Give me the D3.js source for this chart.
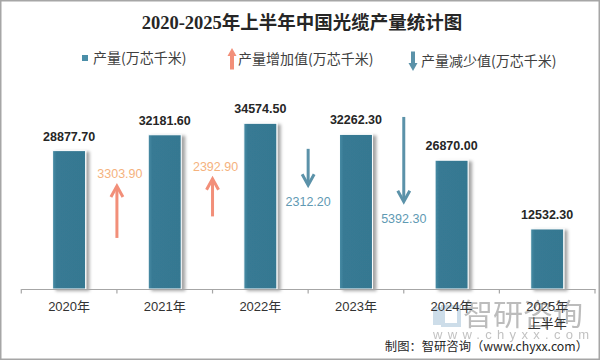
<!DOCTYPE html>
<html><head><meta charset="utf-8">
<script src="https://cdn.jsdelivr.net/npm/d3@7"></script>
<style>body{margin:0;background:#fff}svg{display:block}</style>
</head><body><svg id="c" width="604" height="361"></svg>
<script>
const categories = ["2020年","2021年","2022年","2023年","2024年","2025年\n上半年"];
const production = [28877.70, 32181.60, 34574.50, 32262.30, 26870.00, 12532.30];
const increases = [3303.90, 2392.90, null, null];
const decreases = [null, null, 2312.20, 5392.30];
// arrow start values on the hidden secondary axis
const arrowStart = [3250, 4620, 8920, 10950];
const yTicks = [0, 40000];

const svg = d3.select("#c");
const CJK = "'Noto Sans CJK SC','Noto Sans',sans-serif";
const NUM = "'Liberation Sans',Arial,'Noto Sans CJK SC',sans-serif";

svg.append("rect").attr("x",0.75).attr("y",0.75).attr("width",598.5).attr("height",358.5)
  .attr("fill","#fff").attr("stroke","#a6a6a6").attr("stroke-width",1.5);

const defs = svg.append("defs");
const f = defs.append("filter").attr("id","sh").attr("x","-20%").attr("y","-10%").attr("width","150%").attr("height","130%");
f.append("feDropShadow").attr("dx",3.5).attr("dy",1.5).attr("stdDeviation",1.6).attr("flood-color","#000").attr("flood-opacity",0.35);
const g = defs.append("linearGradient").attr("id","bg");
g.append("stop").attr("offset","0%").attr("stop-color","#4a8da6");
g.append("stop").attr("offset","12%").attr("stop-color","#377a94");
g.append("stop").attr("offset","100%").attr("stop-color","#367891");

// watermark (background)
const wm = svg.append("g").attr("opacity",0.7);
wm.append("rect").attr("x",433).attr("y",307).attr("width",8).attr("height",18).attr("fill","#b8cfe0");
wm.append("rect").attr("x",443).attr("y",307).attr("width",16).attr("height",18).attr("fill","none").attr("stroke","#b8cfe0").attr("stroke-width",4);
wm.append("text").attr("x",463).attr("y",325).attr("font-family",CJK).attr("font-size",30).attr("fill","#a0a0a0").text("智研咨询");
wm.append("text").attr("x",433).attr("y",339).attr("font-family",NUM).attr("font-size",13).attr("letter-spacing",5.3).attr("fill","#a8a8a8").text("www.chyxx.com");

// title
svg.append("text").attr("x",302).attr("y",29).attr("text-anchor","middle")
  .attr("font-family","'Liberation Serif','Noto Sans CJK SC',serif").attr("font-weight","bold")
  .attr("font-size",18.5).attr("fill","#262626").text("2020-2025年上半年中国光缆产量统计图");

const x = d3.scaleBand().domain(categories).range([21.3,595]).paddingInner(0).paddingOuter(0);
const y = d3.scaleLinear().domain(d3.extent(yTicks)).range([289,97.3]);
const y2 = d3.scaleLinear().domain([0,12200]).range([289,97.3]);
const bw = 33;

// bars
svg.append("g").selectAll("rect").data(production).join("rect")
  .attr("x",(d,i)=>x(categories[i])+x.bandwidth()/2-bw/2)
  .attr("y",d=>y(d)).attr("width",bw).attr("height",d=>y(0)-y(d))
  .attr("fill","url(#bg)").attr("stroke","#fff").attr("stroke-width",1).attr("filter","url(#sh)");

svg.append("g").selectAll("text").data(production).join("text")
  .attr("x",(d,i)=>x(categories[i])+x.bandwidth()/2)
  .attr("y",d=>y(d)-10).attr("text-anchor","middle")
  .attr("font-family",NUM).attr("font-weight","bold").attr("font-size",12.5).attr("fill","#262626")
  .text(d=>d3.format(".2f")(d));

// axis
const ax = svg.append("g").attr("transform","translate(0,289)")
  .call(d3.axisBottom(x).tickSize(0).tickFormat(""));
ax.select(".domain").attr("stroke","#a6a6a6").attr("stroke-width",1.2);
const bounds = categories.map(c=>x(c)).concat([x.range()[1]]);
svg.append("g").selectAll("line").data(bounds).join("line")
  .attr("x1",d=>d).attr("x2",d=>d).attr("y1",289).attr("y2",293.5)
  .attr("stroke","#a6a6a6").attr("stroke-width",1.2);
const lbl = svg.append("g").selectAll("text").data(categories).join("text")
  .attr("text-anchor","middle").attr("font-family",NUM).attr("font-size",13).attr("fill","#333");
lbl.each(function(c){
  const t = d3.select(this);
  c.split("\n").forEach((s,k)=>{
    t.append("tspan").attr("x",x(c)+x.bandwidth()/2).attr("y",311+k*17).text(s);
  });
});

// arrows
function arrow(sel, x0, yFrom, yTo, color, w){
  const dir = yTo < yFrom ? 1 : -1; // 1 = up
  sel.append("line").attr("x1",x0).attr("x2",x0).attr("y1",yFrom).attr("y2",yTo+dir*1)
    .attr("stroke",color).attr("stroke-width",w);
  sel.append("path").attr("d",`M${x0-6},${yTo+dir*11}L${x0},${yTo}L${x0+6},${yTo+dir*11}`)
    .attr("fill","none").attr("stroke",color).attr("stroke-width",w).attr("stroke-linejoin","miter");
}
const ag = svg.append("g");
increases.forEach((v,i)=>{
  if(v==null) return;
  const xx = x(categories[i+1]);
  const y0 = y2(arrowStart[i]), y1 = y2(arrowStart[i]+v);
  arrow(ag, xx, y0, y1, "#f28f79", 3);
  ag.append("text").attr("x",xx+3).attr("y",y1-8).attr("text-anchor","middle")
    .attr("font-family",NUM).attr("font-size",12.5).attr("fill","#f5b27e").text(d3.format(".2f")(v));
});
decreases.forEach((v,i)=>{
  if(v==null) return;
  const xx = x(categories[i+1]);
  const y0 = y2(arrowStart[i]), y1 = y2(arrowStart[i]-v);
  arrow(ag, xx, y0, y1, "#5b92a9", 3);
  ag.append("text").attr("x",xx).attr("y",y1+21).attr("text-anchor","middle")
    .attr("font-family",NUM).attr("font-size",12.5).attr("fill","#5f9ab3").text(d3.format(".2f")(v));
});

// legend
const lg = svg.append("g").attr("font-family",CJK).attr("font-size",14).attr("fill","#404040");
lg.append("rect").attr("x",82).attr("y",55).attr("width",6).attr("height",6).attr("fill","#4a8ea8");
lg.append("text").attr("x",93).attr("y",62.5).text("产量(万芯千米)");
function blockArrow(x0, yTop, yBot, up, color){
  const hw=4.5, hl=8, sw=2;
  const d = up
    ? `M${x0},${yTop}L${x0+hw},${yTop+hl}L${x0+sw},${yTop+hl}L${x0+sw},${yBot}L${x0-sw},${yBot}L${x0-sw},${yTop+hl}L${x0-hw},${yTop+hl}Z`
    : `M${x0},${yBot}L${x0+hw},${yBot-hl}L${x0+sw},${yBot-hl}L${x0+sw},${yTop}L${x0-sw},${yTop}L${x0-sw},${yBot-hl}L${x0-hw},${yBot-hl}Z`;
  lg.append("path").attr("d",d).attr("fill",color);
}
blockArrow(232, 48, 69.5, true, "#f28f79");
lg.append("text").attr("x",238).attr("y",64).text("产量增加值(万芯千米)");
blockArrow(413, 51.5, 71, false, "#5b92a9");
lg.append("text").attr("x",421).attr("y",66).text("产量减少值(万芯千米)");

// source
svg.append("text").attr("x",588).attr("y",351).attr("text-anchor","end")
  .attr("font-family",CJK).attr("font-size",12.3).attr("fill","#262626").text("制图：智研咨询（www.chyxx.com）");
</script></body></html>
